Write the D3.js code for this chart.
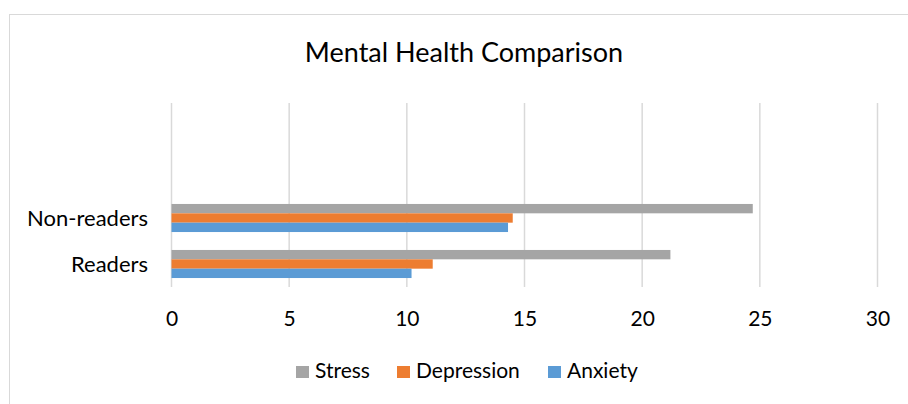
<!DOCTYPE html>
<html><head><meta charset="utf-8">
<script src="https://cdn.jsdelivr.net/npm/d3@7"></script>
<style>html,body{margin:0;padding:0;background:#fff;}svg{display:block;}</style>
</head><body>
<svg id="c" width="908" height="404"></svg>
<script>
const title = "Mental Health Comparison";
const categories = ["Readers", "Non-readers", "", ""];
const seriesNames = ["Stress", "Depression", "Anxiety"];
const stress = [21.2, 24.7];
const depression = [11.1, 14.5];
const anxiety = [10.2, 14.3];
const xTicks = [0, 5, 10, 15, 20, 25, 30];
const colors = ["#A5A5A5", "#ED7D31", "#5B9BD5"];

const values = [stress, depression, anxiety];
const font = "Lato, 'Open Sans', sans-serif";
const svg = d3.select("#c");

svg.append("rect").attr("x", 9.5).attr("y", 14.5).attr("width", 1000).attr("height", 1000)
  .attr("fill", "#fff").attr("stroke", "#D9D9D9").attr("stroke-width", 1);

const pLeft = 171.5, pRight = 877.5, pTop = 103, pBottom = 287;
const x = d3.scaleLinear().domain([0, 30]).range([pLeft, pRight]);
const y = d3.scaleBand().domain(d3.range(categories.length)).range([pBottom, pTop])
  .paddingInner(0.39).paddingOuter(0.195);
const ys = d3.scaleBand().domain(seriesNames).range([0, y.bandwidth()]);

// gridlines
svg.append("g").selectAll("line").data(xTicks).join("line")
  .attr("x1", d => x(d)).attr("x2", d => x(d)).attr("y1", pTop).attr("y2", pBottom)
  .attr("stroke", "#D9D9D9").attr("stroke-width", 1.5);

// bars
const rows = [];
seriesNames.forEach((s, si) => values[si].forEach((v, ci) => rows.push({s, si, ci, v})));
svg.append("g").selectAll("rect").data(rows).join("rect")
  .attr("x", x(0)).attr("y", d => y(d.ci) + ys(d.s))
  .attr("width", d => x(d.v) - x(0)).attr("height", ys.bandwidth())
  .attr("fill", d => colors[d.si]);

// x axis
const xa = svg.append("g").attr("transform", `translate(0,${pBottom})`)
  .call(d3.axisBottom(x).tickValues(xTicks).tickSize(0).tickFormat(d3.format("d")));
xa.select(".domain").remove();
xa.selectAll("text").attr("y", 39).attr("dy", null)
  .attr("font-family", font).attr("font-size", 21).attr("fill", "#000");

// y labels
svg.append("g").selectAll("text").data(categories.filter(c => c)).join("text")
  .attr("x", 148).attr("y", (d, i) => y(i) + y.bandwidth() / 2 + 8)
  .attr("text-anchor", "end").attr("font-family", font).attr("font-size", 22)
  .attr("fill", "#000").text(d => d);

// title
svg.append("text").attr("x", 464).attr("y", 62).attr("text-anchor", "middle")
  .attr("font-family", font).attr("font-size", 27).attr("fill", "#000").text(title);

// legend
const legX = [296, 397, 548];
const lg = svg.append("g").selectAll("g").data(seriesNames).join("g")
  .attr("transform", (d, i) => `translate(${legX[i]},366)`);
lg.append("rect").attr("width", 13).attr("height", 12).attr("fill", (d, i) => colors[i]);
lg.append("text").attr("x", 19).attr("y", 12).attr("font-family", font).attr("font-size", 21)
  .attr("fill", "#000").text(d => d);
</script>
</body></html>
